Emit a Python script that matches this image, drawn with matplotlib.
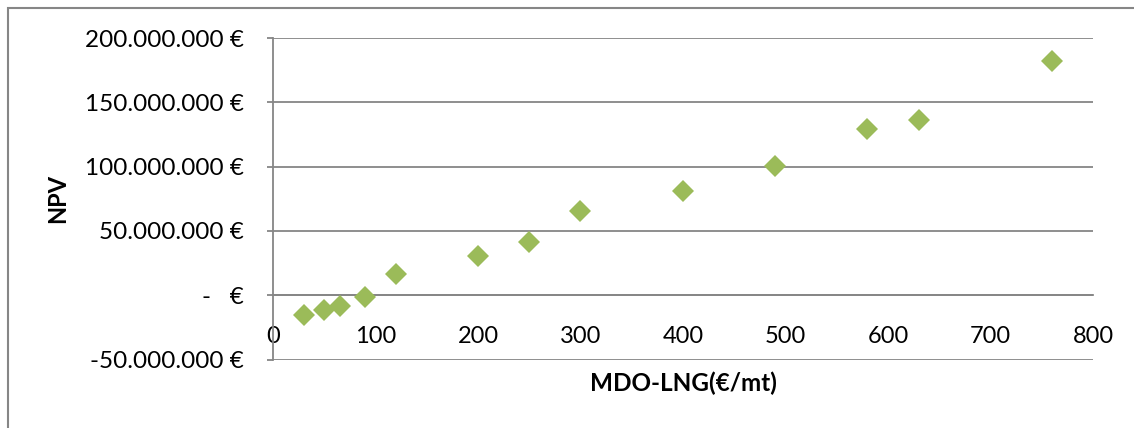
import matplotlib.pyplot as plt
from matplotlib.ticker import FuncFormatter, MultipleLocator
from matplotlib.patches import Rectangle

# price spread MDO - LNG (EUR per metric tonne) and resulting NPV
spread = [30, 50, 65, 90, 120, 200, 250, 300, 400, 490, 580, 630, 760]
npv = [-15.7e6, -11.6e6, -8.3e6, -1.0e6, 16.8e6, 30.5e6, 41.6e6, 65.1e6,
       80.9e6, 100.8e6, 129.2e6, 136.4e6, 182.4e6]

green = '#9BBB59'
grey = '#868686'

plt.rcParams['font.family'] = ['Lato', 'DejaVu Sans']

fig = plt.figure(figsize=(11.34, 4.28), dpi=100)
ax = fig.add_axes([0.2407, 0.16, 0.7231, 0.7512])

ax.plot(spread, npv, linestyle='none', marker='D', markersize=11,
        color=green, markeredgewidth=0, zorder=3)

ax.set_xlim(0, 800)
ax.set_ylim(-50e6, 200e6)
ax.xaxis.set_major_locator(MultipleLocator(100))
ax.yaxis.set_major_locator(MultipleLocator(50e6))


def euro(v, pos):
    if abs(v) < 1:
        return '-   €'
    s = f'{abs(v):,.0f}'.replace(',', '.')
    return ('-' if v < 0 else '') + s + ' €'


ax.yaxis.set_major_formatter(FuncFormatter(euro))

for side in ['top', 'right']:
    ax.spines[side].set_visible(False)
ax.spines['bottom'].set_position(('data', 0))
ax.spines['bottom'].set_color(grey)
ax.spines['left'].set_color(grey)
ax.spines['bottom'].set_linewidth(1.3)
ax.spines['left'].set_linewidth(1.3)

ax.yaxis.grid(True, color=grey, linewidth=1.3)
ax.set_axisbelow(True)

ax.tick_params(axis='x', length=0, pad=22, labelsize=17)
ax.tick_params(axis='y', length=4, width=1.3, color=grey, pad=17, labelsize=17.5)

ax.set_xlabel('MDO-LNG(€/mt)', fontsize=17.5, fontweight='bold')
ax.xaxis.set_label_coords(0.5, -0.036)
ax.set_ylabel('NPV', fontsize=17, fontweight='bold')
ax.yaxis.set_label_coords(-0.248, 0.5)

# outer chart frame
fig.patches.append(Rectangle((8 / 1134, -0.1), 1.2, 1 - 8 / 428 + 0.1,
                             transform=fig.transFigure, fill=False,
                             edgecolor=grey, linewidth=1.5))

fig.savefig('out.png', dpi=100)
